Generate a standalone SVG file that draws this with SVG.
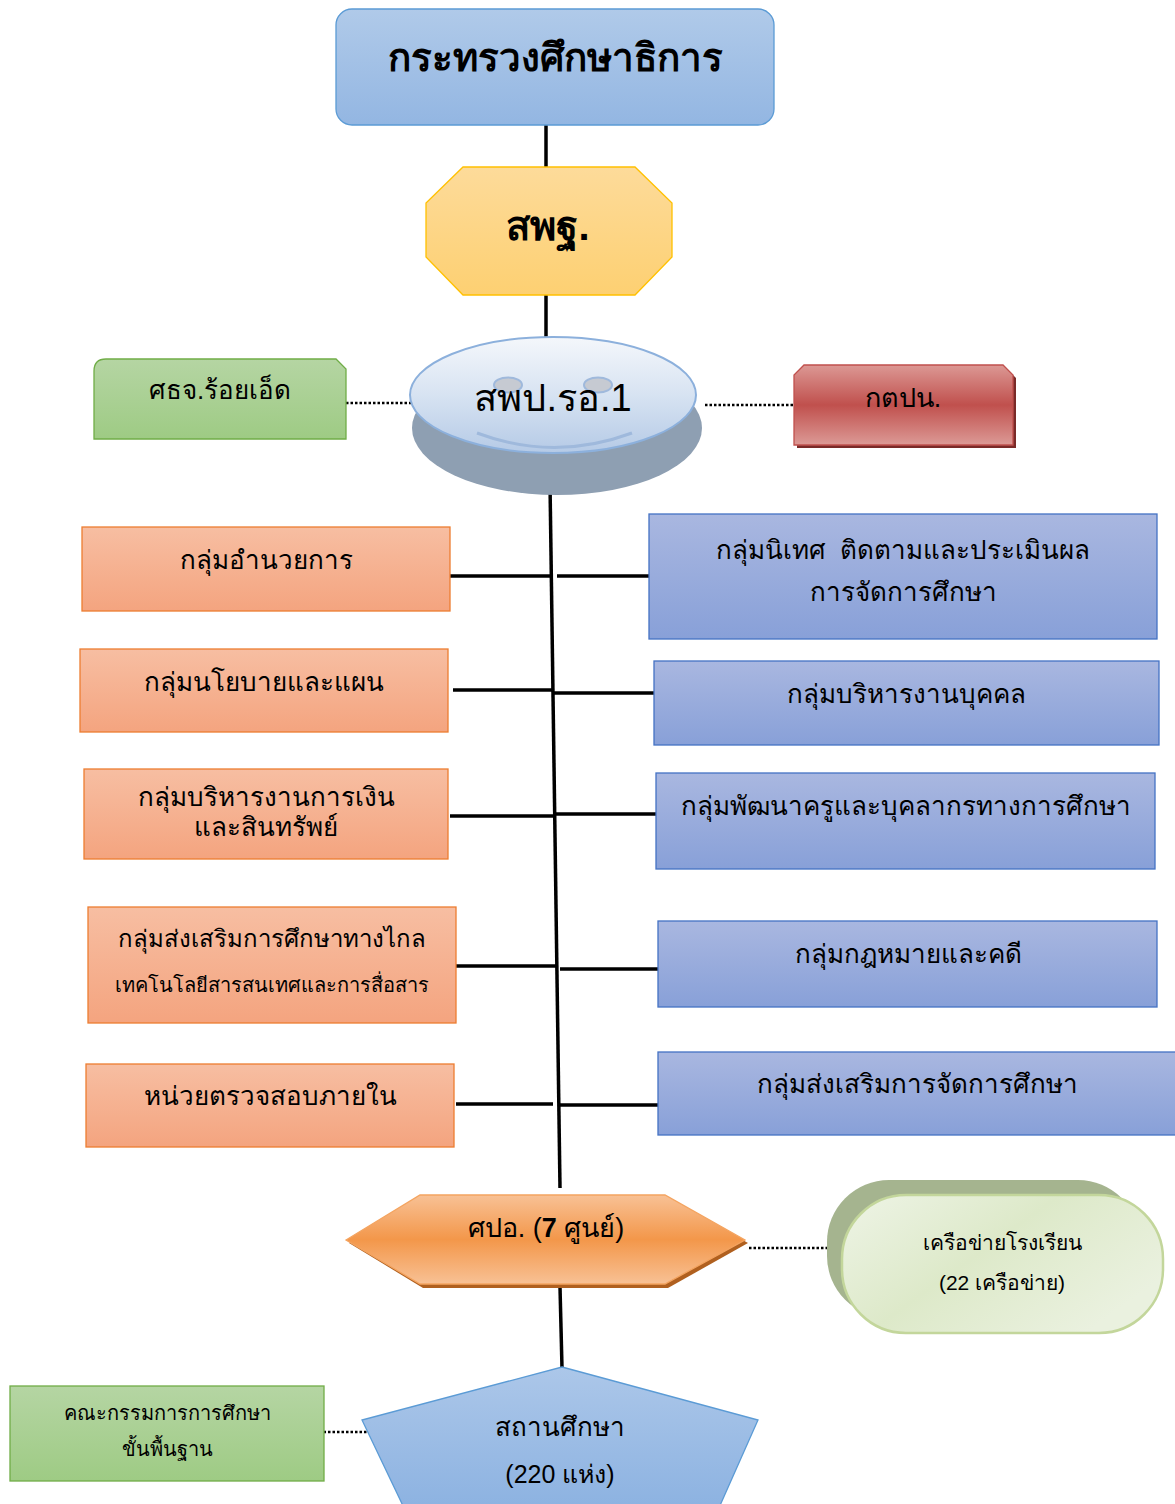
<svg xmlns="http://www.w3.org/2000/svg" width="1175" height="1504" viewBox="0 0 1175 1504">
<defs>
<linearGradient id="gBlueTop" x1="0" y1="0" x2="0" y2="1"><stop offset="0" stop-color="#b0cae9"/><stop offset="1" stop-color="#93b6e2"/></linearGradient>
<linearGradient id="gYellow" x1="0" y1="0" x2="0" y2="1"><stop offset="0" stop-color="#fddb9a"/><stop offset="1" stop-color="#fdd072"/></linearGradient>
<linearGradient id="gEll" x1="0" y1="0" x2="0" y2="1"><stop offset="0" stop-color="#f4f7fb"/><stop offset="0.5" stop-color="#d7e3f2"/><stop offset="1" stop-color="#b5cae6"/></linearGradient>
<linearGradient id="gGreen" x1="0" y1="0" x2="0" y2="1"><stop offset="0" stop-color="#b5d5a3"/><stop offset="1" stop-color="#9ecb84"/></linearGradient>
<linearGradient id="gRed" x1="0" y1="0" x2="0" y2="1"><stop offset="0" stop-color="#dc9894"/><stop offset="0.5" stop-color="#c0504d"/><stop offset="1" stop-color="#dc9a96"/></linearGradient>
<linearGradient id="gOrange" x1="0" y1="0" x2="0" y2="1"><stop offset="0" stop-color="#f7bea2"/><stop offset="1" stop-color="#f4a47f"/></linearGradient>
<linearGradient id="gPurple" x1="0" y1="0" x2="0" y2="1"><stop offset="0" stop-color="#a9b7e0"/><stop offset="1" stop-color="#88a0d8"/></linearGradient>
<linearGradient id="gHex" x1="0" y1="0" x2="0" y2="1"><stop offset="0" stop-color="#f8c195"/><stop offset="0.5" stop-color="#f3974a"/><stop offset="1" stop-color="#f8c195"/></linearGradient>
<linearGradient id="gPill" x1="0" y1="0" x2="1" y2="0.6"><stop offset="0" stop-color="#eef4e6"/><stop offset="0.5" stop-color="#dde9c9"/><stop offset="1" stop-color="#eaf1df"/></linearGradient>
<linearGradient id="gPent" x1="0" y1="0" x2="0" y2="1"><stop offset="0" stop-color="#acc7e9"/><stop offset="1" stop-color="#8cb2e1"/></linearGradient>
<style>
.t{font-family:"Liberation Sans","Noto Sans",Tahoma,sans-serif;fill:#000;text-anchor:middle}
.orange{fill:url(#gOrange);stroke:#ed7d31;stroke-width:1.3}
.purple{fill:url(#gPurple);stroke:#4472c4;stroke-width:1.3}
.solid{stroke:#000;stroke-width:3.5;fill:none}
.dot{stroke:#000;stroke-width:2.5;stroke-dasharray:2.5 2;fill:none}
</style>
</defs>

<g id="connectors">
<line class="solid" x1="546" y1="125" x2="546" y2="172" stroke-width="5"/>
<line class="solid" x1="546" y1="291" x2="546" y2="338" stroke-width="5"/>
<line class="dot" x1="337" y1="403" x2="426" y2="403"/>
<line class="dot" x1="705" y1="405" x2="794" y2="405"/>
<line class="solid" x1="550" y1="483" x2="560" y2="1188" stroke-width="3"/>
<line class="solid" x1="446" y1="576" x2="550" y2="576"/>
<line class="solid" x1="557" y1="576" x2="660" y2="576"/>
<line class="solid" x1="453" y1="690" x2="553" y2="690"/>
<line class="solid" x1="553" y1="693" x2="656" y2="693"/>
<line class="solid" x1="450" y1="816" x2="554" y2="816"/>
<line class="solid" x1="554" y1="814" x2="656" y2="814"/>
<line class="solid" x1="454" y1="966" x2="556" y2="966"/>
<line class="solid" x1="560" y1="969" x2="663" y2="969"/>
<line class="solid" x1="456" y1="1104" x2="553" y2="1104"/>
<line class="solid" x1="560" y1="1105" x2="658" y2="1105"/>
<line class="dot" x1="749" y1="1248" x2="838" y2="1248"/>
<line class="solid" x1="560" y1="1287" x2="562" y2="1368" stroke-width="3"/>
<line class="dot" x1="310" y1="1432" x2="372" y2="1432"/>
</g>

<g id="ministry">
<rect x="336" y="9" width="438" height="116" rx="16" fill="url(#gBlueTop)" stroke="#5b9bd5" stroke-width="1.3"/>
<text class="t" x="555" y="71" font-size="38.5" font-weight="bold">กระทรวงศึกษาธิการ</text>
</g>

<g id="obec">
<polygon points="463,167 635,167 672,203 672,257 635,295 463,295 426,257 426,203" fill="url(#gYellow)" stroke="#ffc000" stroke-width="1.3"/>
<text class="t" x="548" y="240" font-size="40" font-weight="bold">สพฐ.</text>
</g>

<g id="area-office">
<ellipse cx="557" cy="428" rx="145" ry="67" fill="#8e9fb2"/>
<ellipse cx="553" cy="395" rx="143" ry="58" fill="url(#gEll)" stroke="#8cb0dc" stroke-width="2"/>
<ellipse cx="508" cy="385" rx="14" ry="7.5" fill="#c6cad2" stroke="#9fb9dc" stroke-width="2"/>
<ellipse cx="598" cy="385" rx="14" ry="7.5" fill="#c6cad2" stroke="#9fb9dc" stroke-width="2"/>
<path d="M477,433 Q554,462 632,433" fill="none" stroke="#9fb9dc" stroke-width="3"/>
<text class="t" x="553" y="411" font-size="38">สพป.รอ.1</text>
</g>

<g id="provincial">
<path d="M106,359 H336 L346,369 V439 H94 V371 Q94,359 106,359 Z" fill="url(#gGreen)" stroke="#70ad47" stroke-width="1.3"/>
<text class="t" x="220" y="399" font-size="26">ศธจ.ร้อยเอ็ด</text>
</g>

<g id="kotpon">
<path d="M807,368 H1006 L1016,378 V448 H797 V378 Z" fill="#7a2a28"/>
<path d="M804,365 H1003 L1013,375 V445 H794 V375 Z" fill="url(#gRed)" stroke="#c0504d" stroke-width="1.3"/>
<text class="t" x="903" y="407" font-size="27">กตปน.</text>
</g>

<g id="admin"><rect class="orange" x="82" y="527" width="368" height="84"/><text class="t" x="266" y="569" font-size="26">กลุ่มอำนวยการ</text></g>
<g id="policy"><rect class="orange" x="80" y="649" width="368" height="83"/><text class="t" x="264" y="691" font-size="26">กลุ่มนโยบายและแผน</text></g>
<g id="finance"><rect class="orange" x="84" y="769" width="364" height="90"/><text class="t" x="266" y="806" font-size="26">กลุ่มบริหารงานการเงิน</text><text class="t" x="266" y="836" font-size="26">และสินทรัพย์</text></g>
<g id="distance"><rect class="orange" x="88" y="907" width="368" height="116"/><text class="t" x="272" y="947" font-size="24">กลุ่มส่งเสริมการศึกษาทางไกล</text><text class="t" x="272" y="992" font-size="20">เทคโนโลยีสารสนเทศและการสื่อสาร</text></g>
<g id="audit"><rect class="orange" x="86" y="1064" width="368" height="83"/><text class="t" x="270" y="1105" font-size="26">หน่วยตรวจสอบภายใน</text></g>

<g id="supervision"><rect class="purple" x="649" y="514" width="508" height="125"/><text class="t" x="903" y="559" font-size="26" xml:space="preserve">กลุ่มนิเทศ  ติดตามและประเมินผล</text><text class="t" x="903" y="601" font-size="26">การจัดการศึกษา</text></g>
<g id="personnel"><rect class="purple" x="654" y="661" width="505" height="84"/><text class="t" x="906" y="703" font-size="26">กลุ่มบริหารงานบุคคล</text></g>
<g id="teacher"><rect class="purple" x="656" y="773" width="499" height="96"/><text class="t" x="906" y="815" font-size="26">กลุ่มพัฒนาครูและบุคลากรทางการศึกษา</text></g>
<g id="legal"><rect class="purple" x="658" y="921" width="499" height="86"/><text class="t" x="908" y="963" font-size="26">กลุ่มกฎหมายและคดี</text></g>
<g id="promotion"><rect class="purple" x="658" y="1052" width="520" height="83"/><text class="t" x="917" y="1093" font-size="26">กลุ่มส่งเสริมการจัดการศึกษา</text></g>

<g id="centers">
<polygon points="349,1243 423,1198 668,1198 748,1243 668,1288 423,1288" fill="#b0601f"/>
<polygon points="346,1240 420,1195 665,1195 745,1240 665,1284 420,1284" fill="url(#gHex)" stroke="#f4a460" stroke-width="1.3"/>
<text class="t" x="546" y="1237" font-size="27">ศปอ. (<tspan font-weight="bold">7</tspan> ศูนย์)</text>
</g>

<g id="network">
<rect x="827" y="1180" width="313" height="138" rx="62" fill="#a5b48f"/>
<rect x="842" y="1195" width="321" height="138" rx="64" fill="url(#gPill)" stroke="#c3d69b" stroke-width="2.5"/>
<text class="t" x="1002" y="1250" font-size="21">เครือข่ายโรงเรียน</text>
<text class="t" x="1002" y="1290" font-size="21">(22 เครือข่าย)</text>
</g>

<g id="schools">
<polygon points="562,1367 758,1420 718,1510 405,1510 362,1420" fill="url(#gPent)" stroke="#5b9bd5" stroke-width="1.3"/>
<text class="t" x="560" y="1436" font-size="26">สถานศึกษา</text>
<text class="t" x="560" y="1483" font-size="25">(220 แห่ง)</text>
</g>

<g id="board">
<rect x="10" y="1386" width="314" height="95" fill="url(#gGreen)" stroke="#70ad47" stroke-width="1.3"/>
<text class="t" x="167" y="1420" font-size="20">คณะกรรมการการศึกษา</text>
<text class="t" x="167" y="1456" font-size="20">ขั้นพื้นฐาน</text>
</g>
</svg>
